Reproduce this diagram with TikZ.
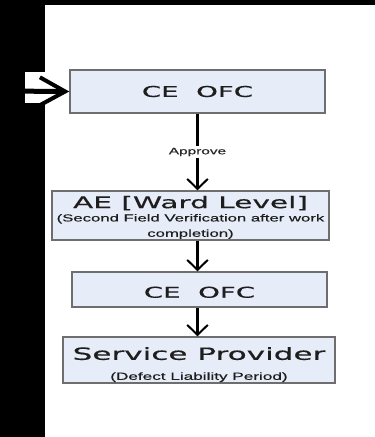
\documentclass[tikz,border=0pt]{standalone}
\usepackage{fontspec}
\usetikzlibrary{arrows.meta}
\newfontfamily\titlefont[FakeStretch=1.85,FakeBold=0.6]{DejaVu Sans}
\newfontfamily\notefont[FakeStretch=1.65,FakeBold=0.5]{Liberation Sans}
\tikzset{every picture/.style={line width=0.75pt}}

\begin{document}
\begin{tikzpicture}[x=0.75pt,y=0.75pt,yscale=-1,xscale=1,
	stage/.style={draw={rgb, 255:red, 110; green, 110; blue, 110}, line width=1.1pt, fill={rgb, 255:red, 231; green, 237; blue, 248}, inner sep=0pt, align=center, text={rgb, 255:red, 30; green, 30; blue, 30}},
	flow/.style={line width=2.25pt, -{Straight Barb[length=7.5pt,width=15.5pt,line width=1.5pt]}},
	feed/.style={line width=3.75pt, -{Straight Barb[length=19pt,width=21pt,line width=3pt]}}]
	\useasboundingbox (0,0) rectangle (375,437);

	%Shape: Background
	\fill [white] (0,0) rectangle (375,437);
	\fill [black] (0,0) rectangle (45,437);
	\fill [black] (0,0) rectangle (375,5);
	\fill [white] (25,72) rectangle (45,103);

	% Text Node
	\node [stage, minimum width=191.25pt, minimum height=32.25pt, font=\titlefont\fontsize{11.2}{13}\selectfont] (ceofc1) at (197.5,91.5) {CE~~OFC};
	% Text Node
	\node [stage, minimum width=207.75pt, minimum height=36.75pt] (ae) at (190.5,215.5) {{\titlefont\fontsize{12}{13}\selectfont\rule{0pt}{12pt}AE [Ward Level]}\\[-2pt]{\notefont\fontsize{7.6}{9}\selectfont (Second Field Verification after work}\\[-0.5pt]{\notefont\fontsize{7.6}{9}\selectfont completion)}};
	% Text Node
	\node [stage, minimum width=191.25pt, minimum height=26.25pt, font=\titlefont\fontsize{11.2}{13}\selectfont] (ceofc2) at (199.5,289.5) {\rule{0pt}{12.5pt}CE~~OFC};
	% Text Node
	\node [stage, minimum width=204pt, minimum height=34.5pt] (sp) at (199,360) {{\titlefont\fontsize{12.6}{14}\selectfont\rule{0pt}{16.4pt}Service Provider}\\[3pt]{\notefont\fontsize{7.8}{9}\selectfont (Defect Liability Period)}};

	%Straight Lines
	\coordinate (src) at (0,91);
	\draw [feed] (src) -- (ceofc1.west);
	\draw [flow] (ceofc1.south) -- (ceofc1.south |- ae.north) node [midway, fill=white, inner sep=1.5pt, font=\notefont\fontsize{7}{8}\selectfont, text={rgb, 255:red, 40; green, 40; blue, 40}] {Approve};
	\draw [flow] (ae.south -| ceofc1.south) -- (ceofc2.north -| ceofc1.south);
	\draw [flow] (ceofc2.south -| ceofc1.south) -- (sp.north -| ceofc1.south);

\end{tikzpicture}
\end{document}
